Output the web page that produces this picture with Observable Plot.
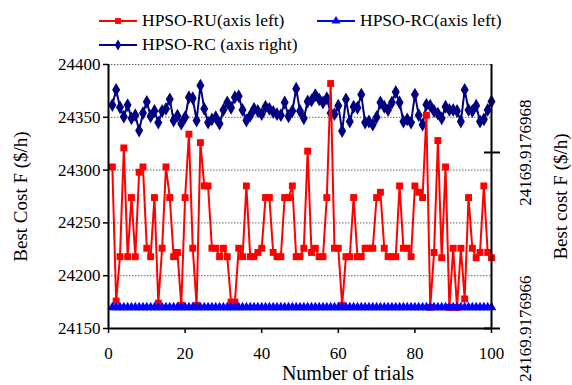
<!DOCTYPE html>
<html><head><meta charset="utf-8">
<script src="https://cdn.jsdelivr.net/npm/d3@7"></script>
<script src="https://cdn.jsdelivr.net/npm/@observablehq/plot@0.6"></script>
<style>
body{margin:0;background:#fff;}
#wrap{position:relative;width:572px;height:385px;font-family:"Liberation Serif","Times New Roman",serif;color:#000;}
#wrap svg text{font-family:"Liberation Serif","Times New Roman",serif;}
.leg{position:absolute;display:flex;align-items:center;font-size:17.5px;line-height:21px;white-space:nowrap;}
.leg svg{margin-right:5px;display:block;}
</style></head><body><div id="wrap"></div>
<script>
const seriesNames = ["HPSO-RU(axis left)", "HPSO-RC(axis left)", "HPSO-RC (axis right)"];
const seriesColors = ["#ff0000", "#0000ff", "#000080"];
const xTicks = [0, 20, 40, 60, 80, 100];
const leftTicks = [24150, 24200, 24250, 24300, 24350, 24400];
const leftDomain = [24150, 24400];
const rightDomain = [24169.9176966, 24169.9176969];
const rightTicks = [24169.9176966, 24169.9176968];
const xTitle = "Number of trials";
const yLeftTitle = "Best Cost F ($/h)";
const yRightTitle = "Best cost F ($/h)";

// HPSO-RU best cost per trial (left axis)
const ruLeft = [
24303,24176,24218,24321,24218,24274,24218,24298,24303,24226,
24218,24274,24174,24226,24303,24274,24218,24222,24172,24274,
24334,24226,24172,24326,24285,24285,24226,24226,24218,24226,
24218,24175,24175,24226,24218,24285,24218,24218,24222,24226,
24274,24274,24222,24218,24218,24274,24274,24285,24218,24218,
24226,24318,24222,24226,24218,24218,24274,24382,24226,24226,
24172,24218,24218,24274,24218,24218,24226,24226,24226,24274,
24279,24226,24218,24218,24218,24285,24226,24226,24218,24285,
24279,24274,24352,24170,24222,24328,24217,24303,24170,24226,
24170,24226,24178,24274,24226,24217,24222,24285,24222,24217];

// HPSO-RC best cost per trial (shown on left axis and, magnified, on right axis)
const rcCost = [
24169.9176968539,24169.9176968712,24169.9176968513,24169.9176968407,24169.9176968539,
24169.9176968388,24169.9176968424,24169.9176968250,24169.9176968448,24169.9176968576,
24169.9176968412,24169.9176968472,24169.9176968340,24169.9176968472,24169.9176968496,
24169.9176968604,24169.9176968364,24169.9176968419,24169.9176968328,24169.9176968400,
24169.9176968628,24169.9176968616,24169.9176968364,24169.9176968760,24169.9176968496,
24169.9176968340,24169.9176968376,24169.9176968400,24169.9176968328,24169.9176968484,
24169.9176968568,24169.9176968508,24169.9176968628,24169.9176968640,24169.9176968484,
24169.9176968364,24169.9176968419,24169.9176968496,24169.9176968472,24169.9176968436,
24169.9176968520,24169.9176968496,24169.9176968460,24169.9176968436,24169.9176968424,
24169.9176968568,24169.9176968412,24169.9176968472,24169.9176968724,24169.9176968472,
24169.9176968388,24169.9176968580,24169.9176968592,24169.9176968652,24169.9176968604,
24169.9176968568,24169.9176968616,24169.9176968448,24169.9176968436,24169.9176968532,
24169.9176968244,24169.9176968604,24169.9176968352,24169.9176968520,24169.9176968508,
24169.9176968658,24169.9176968340,24169.9176968352,24169.9176968316,24169.9176968400,
24169.9176968568,24169.9176968520,24169.9176968484,24169.9176968568,24169.9176968688,
24169.9176968568,24169.9176968352,24169.9176968376,24169.9176968340,24169.9176968658,
24169.9176968424,24169.9176968316,24169.9176968544,24169.9176968532,24169.9176968472,
24169.9176968442,24169.9176968388,24169.9176968520,24169.9176968484,24169.9176968484,
24169.9176968472,24169.9176968352,24169.9176968712,24169.9176968484,24169.9176968472,
24169.9176968532,24169.9176968352,24169.9176968376,24169.9176968484,24169.9176968580];

// map right-axis values into the left-axis coordinate system (secondary axis)
const rightScale = d3.scaleLinear().domain(rightDomain).range(leftDomain);
const rows = ruLeft.map((v, i) => ({trial: i + 1, ru: v, rc: rcCost[i], rcR: rightScale(rcCost[i])}));
const font = '"Liberation Serif","Times New Roman",serif';

const chart = Plot.plot({
  width: 572, height: 385,
  marginTop: 64, marginBottom: 57, marginLeft: 108, marginRight: 81,
  style: {fontFamily: font, fontSize: "17px", background: "white", color: "black", overflow: "visible"},
  x: {domain: [0, 100]},
  y: {domain: leftDomain},
  marks: [
    Plot.ruleY(leftTicks.slice(1), {stroke: "#666", strokeDasharray: "1.5,1.5", strokeWidth: 1}),
    Plot.line(rows, {x: "trial", y: "rcR", stroke: seriesColors[2], strokeWidth: 2}),
    Plot.dot(rows, {x: "trial", y: "rcR", symbol: "diamond", r: 4.2, fill: seriesColors[2], stroke: "none"}),
    Plot.line(rows, {x: "trial", y: "ru", stroke: seriesColors[0], strokeWidth: 2}),
    Plot.dot(rows, {x: "trial", y: "ru", symbol: "square", r: 3.9, fill: seriesColors[0], stroke: "none"}),
    Plot.line(rows, {x: "trial", y: "rc", stroke: seriesColors[1], strokeWidth: 2}),
    Plot.dot(rows, {x: "trial", y: "rc", symbol: "triangle", r: 3.6, fill: seriesColors[1], stroke: "none"}),
    Plot.ruleX([0, 100], {stroke: "black", strokeWidth: 2}),
    Plot.ruleY([leftDomain[0]], {stroke: "black", strokeWidth: 2}),
    Plot.axisY({ticks: leftTicks, tickSize: 5, tickPadding: 3, tickFormat: d => String(d), label: null, fontSize: 17, strokeWidth: 1.5}),
    Plot.axisX({ticks: xTicks, tickSize: 5, tickPadding: 13, tickFormat: d => String(d), label: null, fontSize: 17, strokeWidth: 1.5}),
    Plot.axisY({anchor: "right", ticks: rightTicks.map(rightScale), tickSize: 16, dx: -8, tickFormat: () => "", label: null, strokeWidth: 2}),
    Plot.text(rightTicks, {y: d => rightScale(d), text: d => d.toFixed(7), frameAnchor: "right", textAnchor: "middle", dx: 34, rotate: -90, fontSize: 17}),
    Plot.text([yLeftTitle], {text: d => d, frameAnchor: "left", textAnchor: "middle", dx: -88, rotate: -90, fontSize: 19}),
    Plot.text([yRightTitle], {text: d => d, frameAnchor: "right", textAnchor: "middle", dx: 69, rotate: -90, fontSize: 19}),
    Plot.text([xTitle], {text: d => d, frameAnchor: "bottom", textAnchor: "middle", dx: 48, dy: 51, fontSize: 20})
  ]
});
const wrap = document.getElementById("wrap");
wrap.appendChild(chart);

// legend
const legendPos = [{left: 99, top: 10}, {left: 317, top: 10}, {left: 99, top: 34}];
const legendSym = ["square", "triangle", "diamond"];
seriesNames.forEach((name, i) => {
  const div = document.createElement("div");
  div.className = "leg";
  div.style.left = legendPos[i].left + "px";
  div.style.top = legendPos[i].top + "px";
  const s = d3.create("svg").attr("width", 38).attr("height", 12);
  s.append("line").attr("x1", 0).attr("x2", 38).attr("y1", 6).attr("y2", 6).attr("stroke", seriesColors[i]).attr("stroke-width", 2);
  const sym = {square: d3.symbolSquare, triangle: d3.symbolTriangle, diamond: d3.symbolDiamond}[legendSym[i]];
  s.append("path").attr("transform", "translate(19,6)").attr("d", d3.symbol(sym, 34)()).attr("fill", seriesColors[i]);
  div.appendChild(s.node());
  const span = document.createElement("span");
  span.textContent = name;
  div.appendChild(span);
  wrap.appendChild(div);
});
</script></body></html>
